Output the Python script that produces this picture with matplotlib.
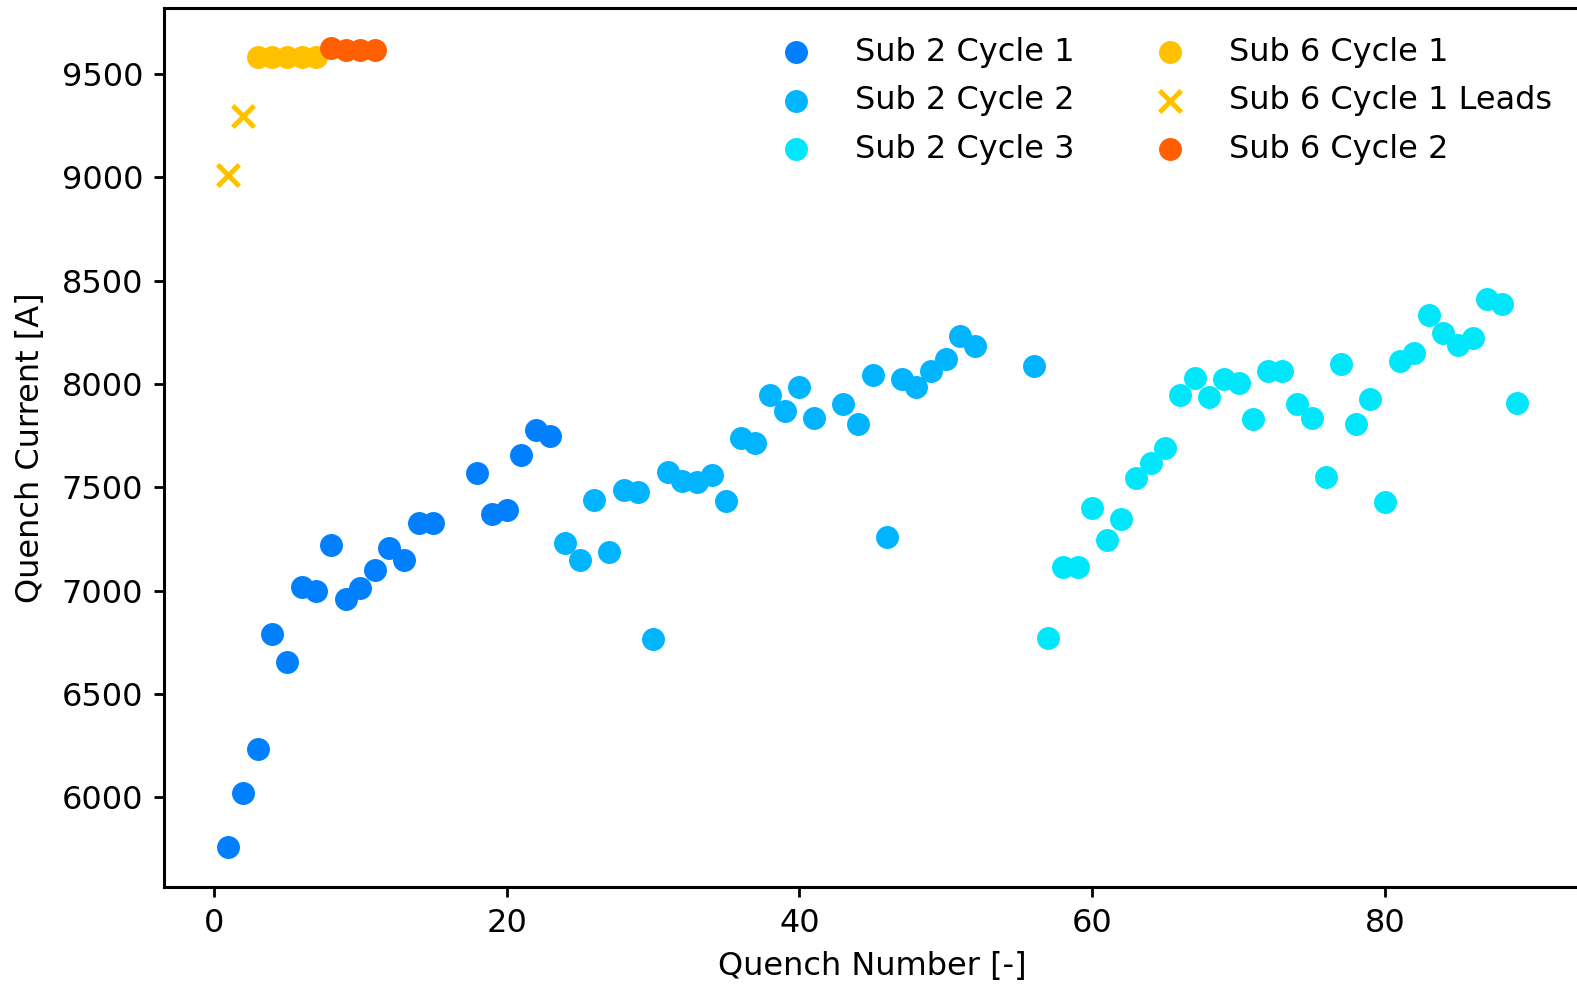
import matplotlib
matplotlib.use("Agg")
import matplotlib.pyplot as plt

# -----------------------------
# DATA
# -----------------------------
s2c1_x = [1, 2, 3, 4, 5, 6, 7, 8, 9, 10, 11, 12, 13, 14, 15, 18, 19, 20, 21, 22, 23]
s2c1_y = [5760, 6020, 6235, 6792, 6656, 7020, 6999, 7221, 6960, 7013, 7101,
          7209, 7149, 7326, 7330, 7569, 7371, 7393, 7659, 7776, 7750]

s2c2_x = [24, 25, 26, 27, 28, 29, 30, 31, 32, 33, 34, 35, 36, 37, 38, 39, 40,
          41, 43, 44, 45, 46, 47, 48, 49, 50, 51, 52, 56]
s2c2_y = [7233, 7149, 7438, 7187, 7488, 7480, 6768, 7576, 7533, 7528, 7560,
          7432, 7737, 7717, 7946, 7871, 7988, 7834, 7902, 7805, 8046, 7259,
          8022, 7988, 8061, 8119, 8230, 8182, 8085]

s2c3_x = [57, 58, 59, 60, 61, 62, 63, 64, 65, 66, 67, 68, 69, 70, 71, 72, 73,
          74, 75, 76, 77, 78, 79, 80, 81, 82, 83, 84, 85, 86, 87, 88, 89]
s2c3_y = [6770, 7113, 7116, 7398, 7245, 7345, 7546, 7619, 7691, 7945, 8031,
          7938, 8023, 8005, 7830, 8062, 8061, 7905, 7836, 7548, 8099, 7805,
          7926, 7427, 8112, 8150, 8332, 8247, 8187, 8223, 8413, 8388, 7909]

s6c1_x = [3, 4, 5, 6, 7]
s6c1_y = [9582, 9582, 9582, 9582, 9582]

s6leads_x = [1, 2]
s6leads_y = [9010, 9298]

s6c2_x = [8, 9, 10, 11]
s6c2_y = [9626, 9616, 9616, 9616]

# -----------------------------
# PLOT
# -----------------------------
plt.rcParams['font.family'] = ['DejaVu Sans']
plt.rcParams['font.size'] = 23

fig = plt.figure(figsize=(15.77, 9.86), dpi=100)
ax = fig.add_axes([0.104, 0.1004, 0.8986, 0.8915])

ms = 240
ax.scatter(s2c1_x, s2c1_y, s=ms, color='#0080FF', label='Sub 2 Cycle 1')
ax.scatter(s2c2_x, s2c2_y, s=ms, color='#00B4FF', label='Sub 2 Cycle 2')
ax.scatter(s2c3_x, s2c3_y, s=ms, color='#00E6FA', label='Sub 2 Cycle 3')
ax.scatter(s6c1_x, s6c1_y, s=ms, color='#FFC000', label='Sub 6 Cycle 1')
ax.scatter(s6leads_x, s6leads_y, s=ms, marker='x', linewidths=3.5,
           color='#FFC000', label='Sub 6 Cycle 1 Leads')
ax.scatter(s6c2_x, s6c2_y, s=ms, color='#FF5F00', label='Sub 6 Cycle 2')

ax.set_xlabel("Quench Number [-]", labelpad=9)
ax.set_ylabel("Quench Current [A]", labelpad=11)
ax.set_xticks([0, 20, 40, 60, 80])
ax.set_yticks([6000, 6500, 7000, 7500, 8000, 8500, 9000, 9500])

for sp in ax.spines.values():
    sp.set_linewidth(2.2)
ax.tick_params(width=2, length=7, pad=8, labelsize=23)

ax.legend(loc='upper right', ncol=2, frameon=False, fontsize=23,
          labelspacing=0.55, handletextpad=0.85, columnspacing=2.0)

fig.savefig("out.png", dpi=100)
